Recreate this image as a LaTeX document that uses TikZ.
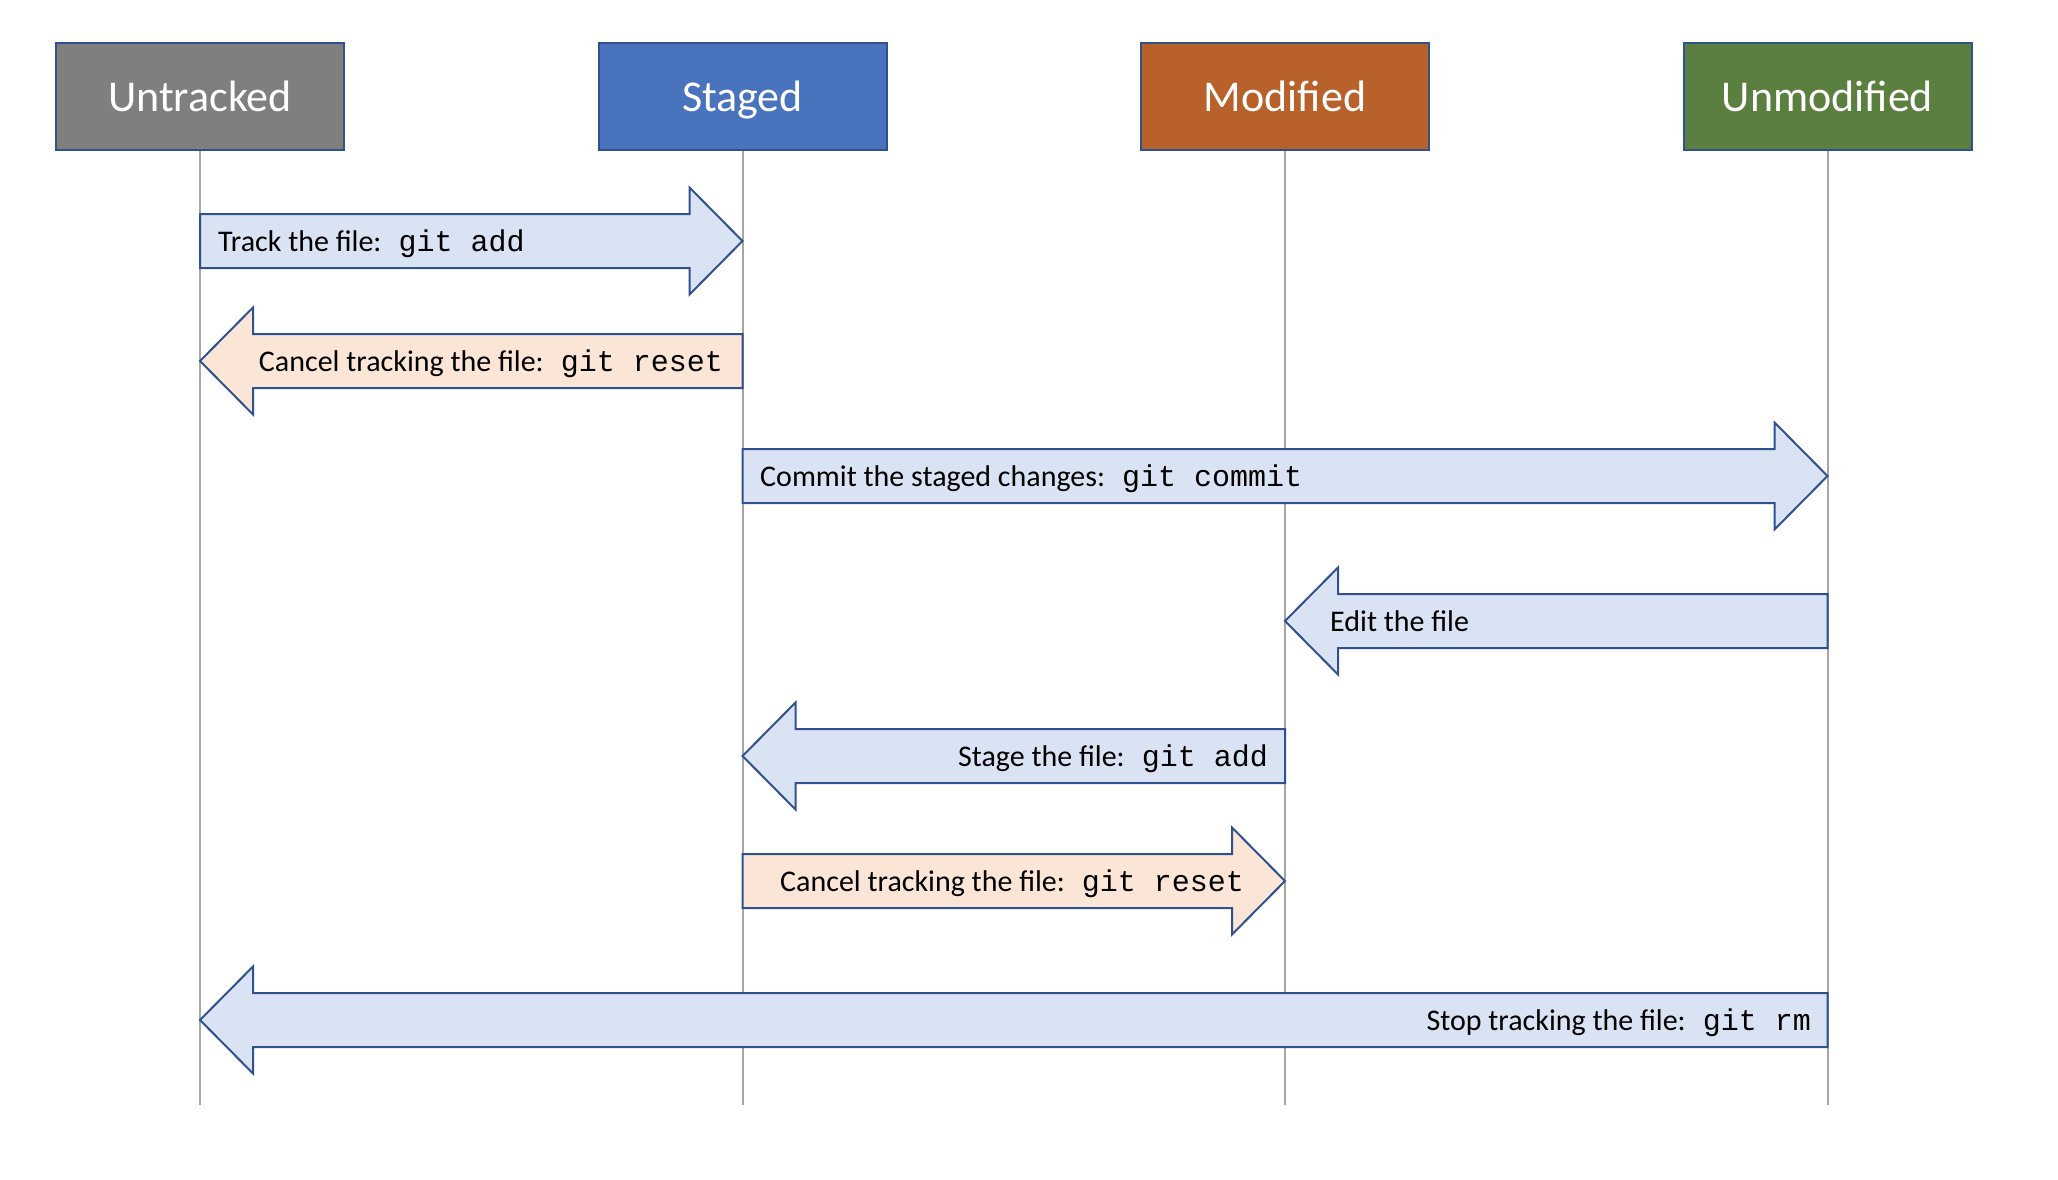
\documentclass[tikz,border=0pt]{standalone}
\usepackage{fontspec}
\setmainfont{Carlito}
\setmonofont{Liberation Mono}
\usetikzlibrary{calc}
\definecolor{edge}{HTML}{2F528F}
\definecolor{cUntr}{HTML}{7F7F7F}
\definecolor{cStag}{HTML}{4A73BE}
\definecolor{cMod}{HTML}{B8612B}
\definecolor{cUnm}{HTML}{5B7F3E}
\definecolor{blueFill}{HTML}{DAE3F3}
\definecolor{orangeFill}{HTML}{FBE5D6}
\definecolor{lifeC}{HTML}{A6A6A6}
\tikzset{
  statebox/.style={draw=edge, line width=2pt, minimum width=288pt, minimum height=106pt, fill=#1},
  statetext/.style={text=white, font=\fontsize{44}{52}\selectfont, inner sep=0pt, anchor=base},
  lifeline/.style={draw=lifeC, line width=2pt},
  fatblue/.style={draw=edge, fill=blueFill, line width=2pt, line join=miter},
  fatorange/.style={draw=edge, fill=orangeFill, line width=2pt, line join=miter},
  lbl/.style={inner sep=0pt, font=\fontsize{30}{36}\selectfont},
}
\newcommand\gap{\hspace{17pt}}
% #1 from lifeline, #2 to lifeline, #3 y, #4 direction (1 right, -1 left), #5 style
\newcommand\fatarrow[5]{%
  \draw[#5] ($(#1|-0,#3)+(0,-27)$) -- ($(#2|-0,#3)+({-(#4)*53},-27)$)
    -- ($(#2|-0,#3)+({-(#4)*53},-53.5)$) -- (#2|-0,#3)
    -- ($(#2|-0,#3)+({-(#4)*53},53.5)$) -- ($(#2|-0,#3)+({-(#4)*53},27)$)
    -- ($(#1|-0,#3)+(0,27)$) -- cycle;}
\begin{document}
\begin{tikzpicture}[x=1pt,y=-1pt]
\useasboundingbox (0,0) rectangle (2058,1180);
% states
\node[statebox=cUntr] (U) at (200,96.5) {};
\node[statebox=cStag] (S) at (742.5,96.5) {};
\node[statebox=cMod] (M) at (1285,96.5) {};
\node[statebox=cUnm] (N) at (1827.5,96.5) {};
\node[statetext] (Ut) at (200,112) {Untracked};
\node[statetext] (St) at (742.5,112) {Staged};
\node[statetext] (Mt) at (1285,112) {Modified};
\node[statetext] (Nt) at (1827.5,112) {Unmodified};
% lifeline ends
\coordinate (Ue) at (200,1105);
\coordinate (Se) at (742.5,1105);
\coordinate (Me) at (1285,1105);
\coordinate (Ne) at (1827.5,1105);
\draw[lifeline] (U.south) -- (Ue);
\draw[lifeline] (S.south) -- (Se);
\draw[lifeline] (M.south) -- (Me);
\draw[lifeline] (N.south) -- (Ne);
% arrows
\fatarrow{Ue}{Se}{241}{1}{fatblue}
\fatarrow{Se}{Ue}{361}{-1}{fatorange}
\fatarrow{Se}{Ne}{476}{1}{fatblue}
\fatarrow{Ne}{Me}{621}{-1}{fatblue}
\fatarrow{Me}{Se}{756}{-1}{fatblue}
\fatarrow{Se}{Me}{881}{1}{fatorange}
\fatarrow{Ne}{Ue}{1020}{-1}{fatblue}
% labels
\node[lbl, anchor=base west] (t1) at (218,251) {Track the file:\gap\texttt{git add}};
\node[lbl, anchor=base east] (t2) at (723,371) {Cancel tracking the file:\gap\texttt{git reset}};
\node[lbl, anchor=base west] (t3) at (760,486) {Commit the staged changes:\gap\texttt{git commit}};
\node[lbl, anchor=base west] (t4) at (1330,631) {Edit the file};
\node[lbl, anchor=base east] (t5) at (1268,766) {Stage the file:\gap\texttt{git add}};
\node[lbl, anchor=base west] (t6) at (780,891) {Cancel tracking the file:\gap\texttt{git reset}};
\node[lbl, anchor=base east] (t7) at (1811,1030) {Stop tracking the file:\gap\texttt{git rm}};
\end{tikzpicture}
\end{document}
